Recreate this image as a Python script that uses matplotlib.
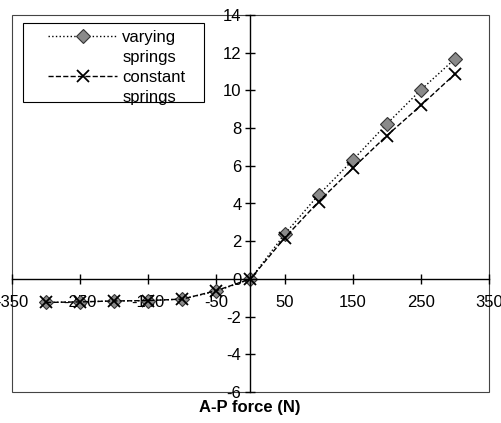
import matplotlib
matplotlib.use("Agg")
import matplotlib.pyplot as plt
from matplotlib.patches import Rectangle
from matplotlib.lines import Line2D

force = [-300, -250, -200, -150, -100, -50, 0, 50, 100, 150, 200, 250, 300]
varying = [-1.25, -1.22, -1.17, -1.15, -1.07, -0.65, 0, 2.37, 4.46, 6.3, 8.22, 10.03, 11.67]
constant = [-1.25, -1.22, -1.17, -1.15, -1.07, -0.62, 0, 2.17, 4.1, 5.87, 7.6, 9.2, 10.87]
xticks = [-350, -250, -150, -50, 50, 150, 250, 350]
yticks = [-6, -4, -2, 0, 2, 4, 6, 8, 10, 12, 14]

plt.rcParams['font.family'] = ['Liberation Sans', 'DejaVu Sans']
plt.rcParams['axes.unicode_minus'] = False

W, H = 501, 423
fig = plt.figure(figsize=(W/100, H/100), dpi=100)
L, R, T, B = 12, 489, 15, 392
ax = fig.add_axes([L/W, 1-B/H, (R-L)/W, (B-T)/H])

h1, = ax.plot(force, varying, linestyle=':', color='black', lw=1.0,
              marker='D', markersize=7, markerfacecolor='#8a8a8a',
              markeredgecolor='#333333', markeredgewidth=0.8)
h2, = ax.plot(force, constant, linestyle='--', color='black', lw=1.0,
              marker='x', markersize=9, markeredgecolor='black',
              markeredgewidth=1.3)

ax.set_xlim(-350, 350)
ax.set_ylim(-6, 14)
ax.set_xticks(xticks)
ax.set_yticks(yticks)

for s in ['top', 'right']:
    ax.spines[s].set_visible(False)
ax.spines['left'].set_position(('data', 0))
ax.spines['bottom'].set_position(('data', 0))
for s in ['left', 'bottom']:
    ax.spines[s].set_linewidth(1.0)

ax.add_patch(Rectangle((0, 0), 1, 1, transform=ax.transAxes, fill=False,
                       edgecolor='#444444', lw=0.8, clip_on=False, zorder=0))

ax.tick_params(axis='both', direction='inout', length=7, width=1.0,
               labelsize=12)
ax.tick_params(axis='x', pad=8)
ax.tick_params(axis='y', pad=3)

fig.text(250/W, 1-407/H, 'A-P force (N)', ha='center', va='center',
         fontsize=12, fontweight='bold')

# legend frame drawn manually (pixel box 23..204 x 23..102)
lx0, lx1, ly0, ly1 = 23, 204, 23, 102
fig.patches.append(Rectangle((lx0/W, 1-ly1/H), (lx1-lx0)/W, (ly1-ly0)/H,
                             transform=fig.transFigure, fill=True,
                             facecolor='white', edgecolor='black', lw=0.8,
                             zorder=5))
blank = Line2D([], [], linestyle='none', marker='none')
leg = fig.legend([h1, blank, h2, blank],
                 ['varying', 'springs', 'constant', 'springs'],
                 loc='upper left', bbox_to_anchor=(48/W, 1-30/H),
                 frameon=False, fontsize=12,
                 handlelength=4.15, handletextpad=0.3, labelspacing=0.3,
                 borderpad=0, borderaxespad=0)
leg.set_zorder(6)

fig.savefig('out.png', dpi=100)
